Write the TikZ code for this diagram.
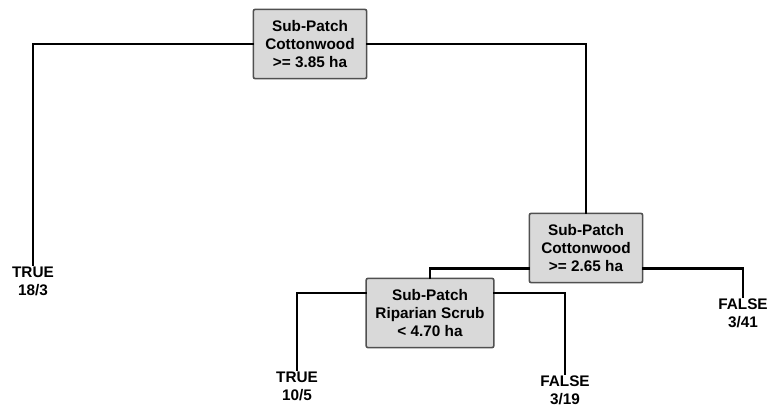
\documentclass[tikz,border=0pt]{standalone}
\usepackage{fontspec}
\setmainfont{Liberation Sans}
\definecolor{splitfill}{HTML}{D9D9D9}
\definecolor{splitedge}{HTML}{505050}

\begin{document}
\begin{tikzpicture}[x=0.75pt, y=-0.75pt,
    split/.style={draw=splitedge, line width=1.2pt, fill=splitfill, rounded corners=1.5pt,
        align=center, inner xsep=7pt, minimum width=85pt, minimum height=52pt,
        font=\fontsize{11.5}{13.5}\selectfont\bfseries},
    leaf/.style={align=center, inner sep=1pt, anchor=north,
        font=\fontsize{11.5}{13.5}\selectfont\bfseries},
    branch/.style={line width=2.2pt, line cap=rect}]
    \useasboundingbox (0,0) rectangle (767,409);

    % Entscheidungsknoten
    \node[split] (root) at (310, 44) {Sub-Patch\\Cottonwood\\>= 3.85 ha};
    \node[split] (cw) at (586, 248) {Sub-Patch\\Cottonwood\\>= 2.65 ha};
    \node[split] (rs) at (430, 313) {Sub-Patch\\Riparian Scrub\\< 4.70 ha};

    % Blaetter
    \node[leaf] (t1) at (33, 265) {TRUE\\18/3};
    \node[leaf] (f1) at (743, 297) {FALSE\\3/41};
    \node[leaf] (t2) at (297, 370) {TRUE\\10/5};
    \node[leaf] (f2) at (565, 374) {FALSE\\3/19};

    % Aeste
    \draw[branch] (root.west) -| (t1.north);
    \draw[branch] (root.east) -| (cw.north);
    \draw[branch] ([yshift=-15.5pt]cw.west) -| (rs.north);
    \draw[branch] ([yshift=-15.5pt]cw.east) -| (f1.north);
    \draw[branch] ([yshift=15pt]rs.west) -| (t2.north);
    \draw[branch] ([yshift=15pt]rs.east) -| (f2.north);
\end{tikzpicture}
\end{document}
